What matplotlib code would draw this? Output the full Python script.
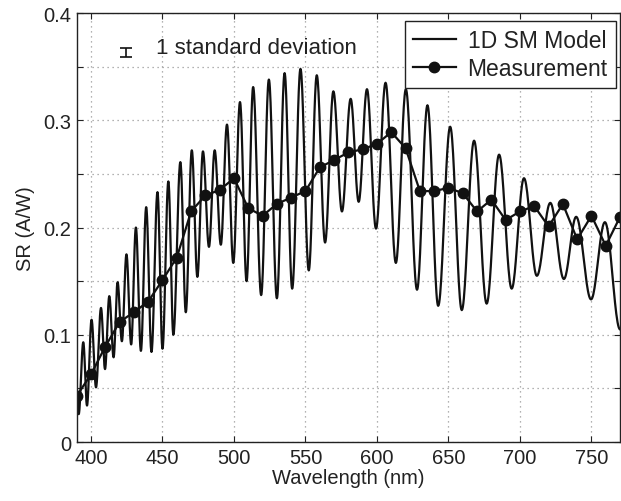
#!/usr/bin/env python3
"""Spectral response: 1D SM model vs. measurement."""

import numpy as np

import matplotlib

matplotlib.use("Agg")
import matplotlib.pyplot as plt
from matplotlib.ticker import FixedLocator, FuncFormatter


# measurement, every 10 nm
MEAS_WL = [390, 400, 410, 420, 430, 440, 450, 460, 470, 480, 490, 500, 510, 520,
           530, 540, 550, 560, 570, 580, 590, 600, 610, 620, 630, 640, 650, 660,
           670, 680, 690, 700, 710, 720, 730, 740, 750, 760, 770]
MEAS_SR = [0.043, 0.063, 0.089, 0.112, 0.121, 0.131, 0.151, 0.172, 0.215, 0.230,
           0.235, 0.246, 0.218, 0.211, 0.222, 0.228, 0.234, 0.256, 0.263, 0.270,
           0.273, 0.278, 0.289, 0.274, 0.234, 0.234, 0.237, 0.232, 0.215, 0.226,
           0.207, 0.215, 0.220, 0.201, 0.222, 0.189, 0.211, 0.183, 0.210]

# model curve: turning points (peaks / troughs)
MODEL_WL = [390.0, 391.4, 394.6, 397.2, 400.4, 403.5, 407.0, 409.8, 412.8, 415.8,
            418.6, 421.6, 424.8, 428.1, 431.4, 434.9, 438.6, 442.3, 446.5, 450.0,
            454.1, 457.6, 462.5, 466.3, 470.5, 474.4, 478.3, 482.5, 486.5, 490.8,
            495.1, 499.5, 504.2, 508.8, 513.4, 519.0, 524.4, 530.0, 535.4, 540.7,
            546.5, 552.3, 557.9, 563.7, 569.5, 575.5, 581.6, 587.2, 593.0, 599.3,
            606.0, 613.2, 620.2, 628.0, 635.3, 642.8, 651.2, 659.3, 667.9, 676.7,
            685.4, 694.2, 702.8, 711.8, 721.2, 730.7, 739.3, 749.7, 759.4, 770.0]
MODEL_SR = [0.048, 0.026, 0.093, 0.034, 0.114, 0.051, 0.125, 0.068, 0.136, 0.079,
            0.149, 0.094, 0.175, 0.091, 0.200, 0.085, 0.219, 0.084, 0.233, 0.087,
            0.243, 0.100, 0.261, 0.121, 0.272, 0.154, 0.271, 0.182, 0.272, 0.184,
            0.296, 0.167, 0.317, 0.150, 0.331, 0.137, 0.338, 0.134, 0.344, 0.143,
            0.348, 0.160, 0.342, 0.186, 0.327, 0.215, 0.320, 0.224, 0.329, 0.199,
            0.335, 0.167, 0.329, 0.142, 0.314, 0.127, 0.294, 0.123, 0.281, 0.129,
            0.268, 0.143, 0.246, 0.155, 0.223, 0.152, 0.210, 0.133, 0.205, 0.105]

STD_WL = 424.4
STD_SR = 0.3635
STD_ERR = 0.0043

X_TICKS = [400, 450, 500, 550, 600, 650, 700, 750]
Y_TICKS = [0, 0.05, 0.1, 0.15, 0.2, 0.25, 0.3, 0.35, 0.4]


def smooth_through(x, y, n=24):
    # join turning points with half-cosine segments
    xs, ys = [], []
    for i in range(len(x) - 1):
        t = np.linspace(0.0, 1.0, n, endpoint=False)
        w = (1.0 - np.cos(np.pi * t)) / 2.0
        xs.append(x[i] + (x[i + 1] - x[i]) * t)
        ys.append(y[i] + (y[i + 1] - y[i]) * w)
    xs.append([x[-1]])
    ys.append([y[-1]])
    return np.concatenate(xs), np.concatenate(ys)


def y_label(v, _pos):
    if abs(v * 10 - round(v * 10)) > 1e-6:
        return ""
    return "0" if abs(v) < 1e-9 else f"{v:.1f}"


def main():
    plt.rcParams["font.family"] = ["Liberation Sans", "DejaVu Sans"]
    text_color = "#222222"

    fig = plt.figure(figsize=(6.21, 5.02), dpi=100)
    ax = fig.add_axes([0.1235, 0.1175, 0.875, 0.8545])

    mx, my = smooth_through(MODEL_WL, MODEL_SR)
    ax.plot(mx, my, color="#111111", linewidth=1.6, label="1D SM Model")
    ax.plot(MEAS_WL, MEAS_SR, color="#111111", linewidth=1.6, marker="o",
            markersize=7.5, label="Measurement")

    ax.errorbar([STD_WL], [STD_SR], yerr=[STD_ERR], color="#111111",
                linewidth=1.2, capsize=4, capthick=1.2)
    ax.text(445.3, 0.368, "1 standard deviation", fontsize=16,
            color=text_color, va="center", ha="left")

    ax.set_xlim(390, 770)
    ax.set_ylim(0, 0.4)
    ax.xaxis.set_major_locator(FixedLocator(X_TICKS))
    ax.yaxis.set_major_locator(FixedLocator(Y_TICKS))
    ax.yaxis.set_major_formatter(FuncFormatter(y_label))
    ax.tick_params(direction="in", top=True, right=True, length=4,
                   labelsize=14.5, colors=text_color, labelcolor=text_color, pad=4)
    ax.grid(True, linestyle=(0, (1, 3)), color="#999999", linewidth=0.9)
    for sp in ax.spines.values():
        sp.set_linewidth(1.0)
        sp.set_color("#222222")

    ax.set_xlabel("Wavelength (nm)", fontsize=14.5, color=text_color, labelpad=1)
    ax.set_ylabel("SR (A/W)", fontsize=14.5, color=text_color, labelpad=6)

    leg = ax.legend(loc="upper right", fontsize=16.5, frameon=True, fancybox=False,
                    bbox_to_anchor=(0.992, 0.981), borderaxespad=0.0,
                    handlelength=1.9, handletextpad=0.5,
                    borderpad=0.35, labelspacing=0.2)
    leg.get_frame().set_edgecolor("#222222")
    leg.get_frame().set_linewidth(1.0)
    leg.get_frame().set_alpha(1.0)
    for t in leg.get_texts():
        t.set_color(text_color)

    fig.savefig("out.png", dpi=100)
    plt.close(fig)
    return 0


if __name__ == "__main__":
    raise SystemExit(main())
